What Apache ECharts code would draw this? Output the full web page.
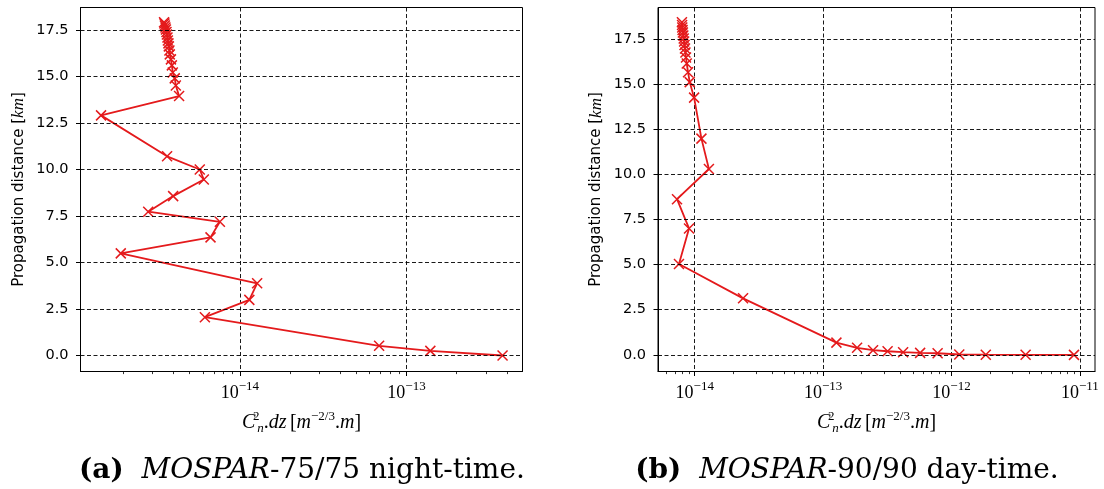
<!DOCTYPE html>
<html>
<head>
<meta charset="utf-8">
<script src="https://cdn.jsdelivr.net/npm/echarts@6/dist/echarts.min.js"></script>
<style>
html,body{margin:0;padding:0;background:#fff;}
#chart{width:1104px;height:489px;}
</style>
</head>
<body>
<div id="chart"></div>
<script>
// ---- Data: (a) MOSPAR-75/75 night-time ----
const distA = [0, 0.25, 0.52, 2.06, 2.99, 3.88, 5.49, 6.35, 7.19, 7.73, 8.57, 9.46, 10.0, 10.71, 12.91, 13.95,
  14.52, 14.9, 15.22, 15.6, 15.92, 16.19, 16.4, 16.62, 16.78, 16.94, 17.1, 17.26, 17.39, 17.53, 17.63, 17.74, 17.85, 17.92];
const cn2A = [3.77e-13, 1.39e-13, 6.85e-14, 6.17e-15, 1.14e-14, 1.27e-14, 1.93e-15, 6.67e-15, 7.59e-15, 2.82e-15, 3.98e-15, 6.08e-15, 5.75e-15, 3.66e-15, 1.47e-15, 4.32e-15,
  4.13e-15, 4.07e-15, 3.96e-15, 3.91e-15, 3.86e-15, 3.80e-15, 3.78e-15, 3.75e-15, 3.73e-15, 3.70e-15, 3.68e-15, 3.65e-15, 3.63e-15, 3.60e-15, 3.58e-15, 3.55e-15, 3.53e-15, 3.51e-15];

// ---- Data: (b) MOSPAR-90/90 day-time ----
const distB = [0, 0.005, 0.01, 0.02, 0.09, 0.11, 0.15, 0.2, 0.26, 0.39, 0.68, 3.13, 5.03, 7.0, 8.62, 10.29, 11.97,
  14.24, 15.1, 15.65, 16.13, 16.46, 16.74, 16.96, 17.15, 17.35, 17.51, 17.68, 17.85, 17.98, 18.12, 18.26, 18.41];
const cn2B = [9.0e-12, 3.78e-12, 1.85e-12, 1.15e-12, 7.8e-13, 5.7e-13, 4.2e-13, 3.18e-13, 2.45e-13, 1.84e-13, 1.27e-13, 2.38e-14, 7.54e-15, 9.03e-15, 7.28e-15, 1.29e-14, 1.128e-14,
  9.89e-15, 9.14e-15, 8.87e-15, 8.67e-15, 8.55e-15, 8.47e-15, 8.40e-15, 8.33e-15, 8.27e-15, 8.21e-15, 8.15e-15, 8.09e-15, 8.04e-15, 8.00e-15, 7.97e-15, 7.95e-15];

// ---- Tick values ----
const yTicks = [0, 2.5, 5, 7.5, 10, 12.5, 15, 17.5];
const xMajorA = [1e-14, 1e-13];
const xMajorB = [1e-14, 1e-13, 1e-12, 1e-11];
const xMinorA = [2e-15,3e-15,4e-15,5e-15,6e-15,7e-15,8e-15,9e-15, 2e-14,3e-14,4e-14,5e-14,6e-14,7e-14,8e-14,9e-14, 2e-13,3e-13,4e-13];
const xMinorB = [6e-15,7e-15,8e-15,9e-15, 2e-14,3e-14,4e-14,5e-14,6e-14,7e-14,8e-14,9e-14,
  2e-13,3e-13,4e-13,5e-13,6e-13,7e-13,8e-13,9e-13, 2e-12,3e-12,4e-12,5e-12,6e-12,7e-12,8e-12,9e-12];

const captionA = ['(a)', 'MOSPAR', '-75/75 night-time.'];
const captionB = ['(b)', 'MOSPAR', '-90/90 day-time.'];
const yName = ['Propagation distance ', 'km'];

const RED = '#e41a1c';
const SANS = 'DejaVu Sans';
const SERIF = 'Liberation Serif';
const CAPSERIF = 'DejaVu Serif';

function zip(xs, ys) { return xs.map((x, i) => [x, ys[i]]); }

const expRich = {
  b: {fontFamily: SERIF, fontSize: 18, color: '#000', lineHeight: 22, verticalAlign: 'bottom'},
  e: {fontFamily: SERIF, fontSize: 13, color: '#000', lineHeight: 22, verticalAlign: 'top'}
};
function expFmt(v) {
  const e = Math.round(Math.log10(v));
  return '{b|10}{e|' + (e < 0 ? '\u2212' + (-e) : e) + '}';
}

const xNameText = '{i|C}{sp0|2}{sb|n}{r|.}{i|dz} {r|[}{i|m}{sp|\u22122/3}{r|.}{i|m}{r|]}';
const xNameRich = {
  i: {fontFamily: SERIF, fontStyle: 'italic', fontSize: 20, color: '#000', lineHeight: 26},
  r: {fontFamily: SERIF, fontSize: 20, color: '#000', lineHeight: 26},
  sp: {fontFamily: SERIF, fontSize: 13, color: '#000', lineHeight: 26, verticalAlign: 'top', padding:[1,0,0,0]},
  sp0: {fontFamily: SERIF, fontSize: 13, color: '#000', lineHeight: 26, verticalAlign: 'top', width: 0, padding:[1,0,0,1]},
  sb: {fontFamily: SERIF, fontStyle: 'italic', fontSize: 13, color: '#000', lineHeight: 26, verticalAlign: 'bottom', padding:[0,0,0,1]}
};
const yNameRich = {
  r: {fontFamily: SANS, fontSize: 15, color: '#000'},
  i: {fontFamily: SERIF, fontStyle: 'italic', fontSize: 17, color: '#000'}
};
const capRich = {
  b: {fontFamily: CAPSERIF, fontWeight: 'bold', fontSize: 28, color: '#000'},
  i: {fontFamily: CAPSERIF, fontWeight: 'normal', fontStyle: 'italic', fontSize: 28, color: '#000'},
  r: {fontFamily: CAPSERIF, fontWeight: 'normal', fontSize: 28, color: '#000'}
};

const grids = [
  {left: 80.5, top: 7.5, width: 442, height: 364, show: true, borderColor: '#000', borderWidth: 1, outerBoundsMode: 'none', containLabel: false},
  {left: 658, top: 7.5, width: 437, height: 364, show: true, borderColor: '#000', borderWidth: 1, outerBoundsMode: 'none', containLabel: false}
];

function mainX(gi, min, max, majors) {
  return {
    type: 'log', logBase: 10, gridIndex: gi, min: min, max: max, position: 'bottom',
    name: xNameText, nameLocation: 'middle', nameGap: 38,
    nameTextStyle: {rich: xNameRich},
    axisLine: {show: true, onZero: false, lineStyle: {color: '#000', width: 1}},
    axisTick: {show: true, customValues: majors, length: 4.5, lineStyle: {color: '#000', width: 1}},
    axisLabel: {show: true, customValues: majors, formatter: expFmt, rich: expRich, margin: 9},
    splitLine: {show: true, lineStyle: {color: '#000', type: [4, 2.5], width: 0.9}},
    minorTick: {show: false}
  };
}
function minorX(gi, min, max, minors) {
  return {
    type: 'log', logBase: 10, gridIndex: gi, min: min, max: max, position: 'bottom',
    axisLine: {show: false, onZero: false},
    axisTick: {show: true, customValues: minors, length: 2.6, lineStyle: {color: '#000', width: 0.8}},
    axisLabel: {show: false}, splitLine: {show: false}
  };
}
function mainY(gi, min, max) {
  return {
    type: 'value', gridIndex: gi, min: min, max: max,
    name: '{r|' + yName[0] + '[}{i|' + yName[1] + '}{r|]}', nameLocation: 'middle', nameGap: 53, nameRotate: 90,
    nameTextStyle: {rich: yNameRich},
    axisLine: {show: true, onZero: false, lineStyle: {color: '#000', width: 1}},
    axisTick: {show: true, customValues: yTicks, length: 4.5, lineStyle: {color: '#000', width: 1}},
    axisLabel: {show: true, customValues: yTicks, formatter: v => v.toFixed(1), fontFamily: SANS, fontSize: 14.5, color: '#000', margin: 12},
    splitLine: {show: false}
  };
}

function gridLines(xIdx, yIdx) {
  return {
    type: 'line', xAxisIndex: xIdx, yAxisIndex: yIdx, data: [], z: 1, silent: true,
    markLine: {
      silent: true, symbol: ['none', 'none'], label: {show: false}, animation: false,
      lineStyle: {color: '#000', type: [4, 2.5], width: 0.9},
      emphasis: {disabled: true},
      data: yTicks.map(v => ({yAxis: v}))
    }
  };
}

const crossSym = 'path://M0,0L10,10M10,0L0,10';
function dataSeries(xIdx, yIdx, xs, ys) {
  return {
    type: 'line', xAxisIndex: xIdx, yAxisIndex: yIdx, z: 3,
    data: zip(xs, ys),
    symbol: crossSym, symbolSize: 10, showSymbol: true,
    lineStyle: {color: RED, width: 1.8},
    itemStyle: {color: RED, borderColor: RED, borderWidth: 1.5},
    emphasis: {disabled: true}
  };
}

const xMinA = Math.pow(10, -14.956), xMaxA = Math.pow(10, -12.304);
const xMinB = Math.pow(10, -14.286), xMaxB = Math.pow(10, -10.882);

const option = {
  animation: false,
  backgroundColor: '#fff',
  grid: grids,
  xAxis: [
    mainX(0, xMinA, xMaxA, xMajorA),
    minorX(0, xMinA, xMaxA, xMinorA),
    mainX(1, xMinB, xMaxB, xMajorB),
    minorX(1, xMinB, xMaxB, xMinorB)
  ],
  yAxis: [mainY(0, -0.86, 18.71), mainY(1, -0.92, 19.23)],
  title: [
    {text: '{b|' + captionA[0] + '}  {i|' + captionA[1] + '}{r|' + captionA[2] + '}', left: 297, top: 452, textAlign: 'center', textStyle: {fontWeight: 'normal', fontFamily: CAPSERIF, fontSize: 28, rich: capRich}},
    {text: '{b|' + captionB[0] + '}  {i|' + captionB[1] + '}{r|' + captionB[2] + '}', left: 842, top: 452, textAlign: 'center', textStyle: {fontWeight: 'normal', fontFamily: CAPSERIF, fontSize: 28, rich: capRich}}
  ],
  series: [
    gridLines(0, 0),
    gridLines(2, 1),
    dataSeries(0, 0, cn2A, distA),
    dataSeries(2, 1, cn2B, distB)
  ]
};

const chart = echarts.init(document.getElementById('chart'), null, {renderer: 'canvas'});
chart.setOption(option);
</script>
</body>
</html>
